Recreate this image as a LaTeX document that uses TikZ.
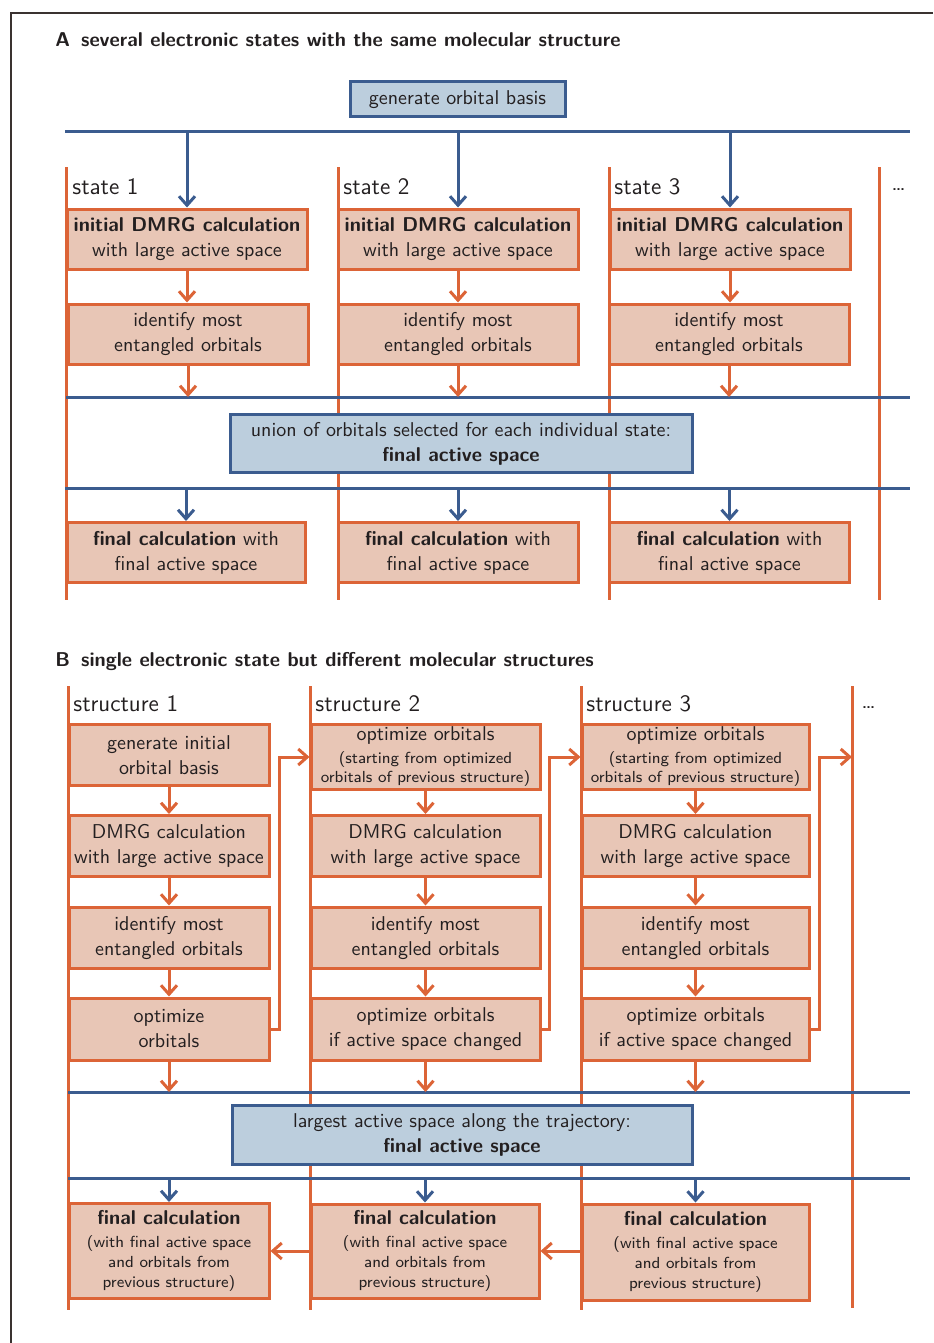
\documentclass[tikz,border=0pt]{standalone}
\usepackage{fontspec}
\renewcommand{\familydefault}{\sfdefault}
\usetikzlibrary{arrows.meta}
\definecolor{laneorange}{HTML}{DC6437}
\definecolor{boxfill}{HTML}{E8C6B6}
\definecolor{busblue}{HTML}{3B5C8F}
\definecolor{selfill}{HTML}{BCCEDD}
\definecolor{inktext}{HTML}{231F20}
\definecolor{framegray}{HTML}{3A3230}
\newcommand{\smline}[1]{{\fontsize{8}{9.6}\selectfont #1}}
\tikzset{
  stepbox/.style={draw=laneorange, fill=boxfill, line width=1.5pt, inner sep=0pt, align=center, text=inktext},
  selbox/.style={draw=busblue, fill=selfill, line width=1.5pt, inner sep=0pt, align=center, text=inktext},
  lane/.style={draw=laneorange, line width=1.5pt},
  bus/.style={draw=busblue, line width=1.5pt},
  flow/.style={laneorange, line width=1.5pt, -{Straight Barb[length=4.5pt,width=8pt]}},
  feed/.style={busblue, line width=1.5pt, -{Straight Barb[length=4.5pt,width=8pt]}},
  tag/.style={anchor=west, inner sep=0pt, font=\fontsize{11.8}{13}\selectfont, text=inktext},
  heading/.style={anchor=west, inner sep=0pt, font=\bfseries, text=inktext},
}
\begin{document}
\begin{tikzpicture}[x=0.5pt, y=-0.5pt, font=\fontsize{10}{12.5}\selectfont]
\useasboundingbox (0,0) rectangle (933,1343);
% frame
\coordinate (frameE) at (933,13); \coordinate (frameNW) at (11,13); \coordinate (frameS) at (11,1343);
\draw[framegray, line width=0.6pt] (frameE) -- (frameNW) -- (frameS);

% ---------- A ----------
\node[heading] (headA) at (55,40) {A\hspace{0.55em}several electronic states with the same molecular structure};

\draw[lane] (66,167) -- (66,600);
\draw[lane] (338,167) -- (338,600);
\draw[lane] (609,167) -- (609,600);
\draw[lane] (879,167) -- (879,600);

\coordinate (busA1w) at (65,132); \coordinate (busA1e) at (910,132);
\coordinate (busA2w) at (66,397); \coordinate (busA2e) at (910,397);
\coordinate (busA3w) at (65,488); \coordinate (busA3e) at (910,488);
\draw[bus] (busA1w) -- (busA1e);
\draw[bus] (busA2w) -- (busA2e);
\draw[bus] (busA3w) -- (busA3e);

\node[selbox, minimum width=107.5pt, minimum height=17.5pt] (genA) at (457.5,99.5) {generate orbital basis};

\node[tag] (stateA1) at (72,187) {state 1};
\node[tag] (stateA2) at (343,187) {state 2};
\node[tag] (stateA3) at (614,187) {state 3};
\node[tag] (moreA) at (891,190) {\dots};

\node[stepbox, minimum width=120pt, minimum height=30pt] (iniA1) at (187,239) {\textbf{initial DMRG calculation}\\with large active space};
\node[stepbox, minimum width=120pt, minimum height=30pt] (iniA2) at (458,239) {\textbf{initial DMRG calculation}\\with large active space};
\node[stepbox, minimum width=120pt, minimum height=30pt] (iniA3) at (730,239) {\textbf{initial DMRG calculation}\\with large active space};

\node[stepbox, minimum width=120pt, minimum height=30pt] (idA1) at (188,334) {identify most\\entangled orbitals};
\node[stepbox, minimum width=120pt, minimum height=30pt] (idA2) at (458,334) {identify most\\entangled orbitals};
\node[stepbox, minimum width=120pt, minimum height=30pt] (idA3) at (729,334) {identify most\\entangled orbitals};

\node[selbox, minimum width=231pt, minimum height=29pt] (unionA) at (461,443.5) {union of orbitals selected for each individual state:\\\textbf{final active space}};

\node[stepbox, minimum width=119pt, minimum height=30pt] (finA1) at (186,552.5) {\textbf{final calculation} with\\final active space};
\node[stepbox, minimum width=120pt, minimum height=30pt] (finA2) at (458,552.5) {\textbf{final calculation} with\\final active space};
\node[stepbox, minimum width=120pt, minimum height=30pt] (finA3) at (729.5,552.5) {\textbf{final calculation} with\\final active space};

\draw[feed] (busA1w -| iniA1.north) -- (iniA1.north);
\draw[feed] (busA1w -| iniA2.north) -- (iniA2.north);
\draw[feed] (busA1w -| iniA3.north) -- (iniA3.north);
\draw[flow] (iniA1.south) -- (iniA1.south |- idA1.north);
\draw[flow] (iniA2.south) -- (iniA2.south |- idA2.north);
\draw[flow] (iniA3.south) -- (iniA3.south |- idA3.north);
\draw[flow] (idA1.south) -- (idA1.south |- busA2w);
\draw[flow] (idA2.south) -- (idA2.south |- busA2w);
\draw[flow] (idA3.south) -- (idA3.south |- busA2w);
\draw[feed] (busA3w -| finA1.north) -- (finA1.north);
\draw[feed] (busA3w -| finA2.north) -- (finA2.north);
\draw[feed] (busA3w -| finA3.north) -- (finA3.north);

% ---------- B ----------
\node[heading] (headB) at (55,662) {B\hspace{0.55em}single electronic state but different molecular structures};

\draw[lane] (68,686) -- (68,1310);
\draw[lane] (310,686) -- (310,1310);
\draw[lane] (581,686) -- (581,1310);
\draw[lane] (852,686) -- (852,1308);

\coordinate (busB1w) at (68,1092); \coordinate (busB1e) at (910,1092);
\coordinate (busB2w) at (68,1178); \coordinate (busB2e) at (910,1178);
\draw[bus] (busB1w) -- (busB1e);
\draw[bus] (busB2w) -- (busB2e);

\node[tag] (strB1) at (73,704) {structure 1};
\node[tag] (strB2) at (315,704) {structure 2};
\node[tag] (strB3) at (586,704) {structure 3};
\node[tag] (moreB) at (861,708) {\dots};

\node[stepbox, minimum width=100pt, minimum height=30.5pt] (iniB1) at (169,755) {generate initial\\orbital basis};
\node[stepbox, minimum width=114.5pt, minimum height=32.5pt] (iniB2) at (425.5,757) {optimize orbitals\\[-1pt]\smline{(starting from optimized}\\[-3pt]\smline{orbitals of previous structure)}};
\node[stepbox, minimum width=113.5pt, minimum height=32.5pt] (iniB3) at (695.5,757) {optimize orbitals\\[-1pt]\smline{(starting from optimized}\\[-3pt]\smline{orbitals of previous structure)}};

\node[stepbox, minimum width=100pt, minimum height=30.5pt] (dmrgB1) at (169,846) {DMRG calculation\\with large active space};
\node[stepbox, minimum width=114.5pt, minimum height=30.5pt] (dmrgB2) at (425.5,846) {DMRG calculation\\with large active space};
\node[stepbox, minimum width=113.5pt, minimum height=30.5pt] (dmrgB3) at (695.5,846) {DMRG calculation\\with large active space};

\node[stepbox, minimum width=100pt, minimum height=30.5pt] (idB1) at (169,937.5) {identify most\\entangled orbitals};
\node[stepbox, minimum width=114.5pt, minimum height=30.5pt] (idB2) at (425.5,937.5) {identify most\\entangled orbitals};
\node[stepbox, minimum width=113.5pt, minimum height=30.5pt] (idB3) at (695.5,937.5) {identify most\\entangled orbitals};

\node[stepbox, minimum width=100pt, minimum height=31pt] (optB1) at (169,1029) {optimize\\orbitals};
\node[stepbox, minimum width=114.5pt, minimum height=31pt] (optB2) at (425.5,1029) {optimize orbitals\\if active space changed};
\node[stepbox, minimum width=113.5pt, minimum height=31pt] (optB3) at (695.5,1029) {optimize orbitals\\if active space changed};

\node[selbox, minimum width=230pt, minimum height=29.5pt] (largestB) at (462,1134.5) {largest active space along the trajectory:\\\textbf{final active space}};

\node[stepbox, minimum width=100pt, minimum height=47.5pt] (finB1) at (169,1251) {\textbf{final calculation}\\[-1pt]\smline{(with final active space}\\[-2.5pt]\smline{and orbitals from}\\[-2.5pt]\smline{previous structure)}};
\node[stepbox, minimum width=114pt, minimum height=47pt] (finB2) at (425,1251) {\textbf{final calculation}\\[-1pt]\smline{(with final active space}\\[-2.5pt]\smline{and orbitals from}\\[-2.5pt]\smline{previous structure)}};
\node[stepbox, minimum width=113.5pt, minimum height=48pt] (finB3) at (695.5,1252) {\textbf{final calculation}\\[-1pt]\smline{(with final active space}\\[-2.5pt]\smline{and orbitals from}\\[-2.5pt]\smline{previous structure)}};

\coordinate (nextB) at (852,757);

\draw[flow] (iniB1.south) -- (iniB1.south |- dmrgB1.north);
\draw[flow] (iniB2.south) -- (iniB2.south |- dmrgB2.north);
\draw[flow] (iniB3.south) -- (iniB3.south |- dmrgB3.north);
\draw[flow] (dmrgB1.south) -- (idB1.north);
\draw[flow] (dmrgB2.south) -- (idB2.north);
\draw[flow] (dmrgB3.south) -- (idB3.north);
\draw[flow] (idB1.south) -- (optB1.north);
\draw[flow] (idB2.south) -- (optB2.north);
\draw[flow] (idB3.south) -- (optB3.north);
\draw[flow] (optB1.south) -- (optB1.south |- busB1w);
\draw[flow] (optB2.south) -- (optB2.south |- busB1w);
\draw[flow] (optB3.south) -- (optB3.south |- busB1w);

\draw[flow] (optB1.east) -- ++(9,0) |- (iniB2.west);
\draw[flow] (optB2.east) -- ++(8,0) |- (iniB3.west);
\draw[flow] (optB3.east) -- ++(9,0) |- (nextB);

\draw[feed] (busB2w -| finB1.north) -- (finB1.north);
\draw[feed] (busB2w -| finB2.north) -- (finB2.north);
\draw[feed] (busB2w -| finB3.north) -- (finB3.north);

\draw[flow] (finB2.west |- finB1.east) -- (finB1.east);
\draw[flow] (finB3.west |- finB2.east) -- (finB2.east);
\end{tikzpicture}
\end{document}
